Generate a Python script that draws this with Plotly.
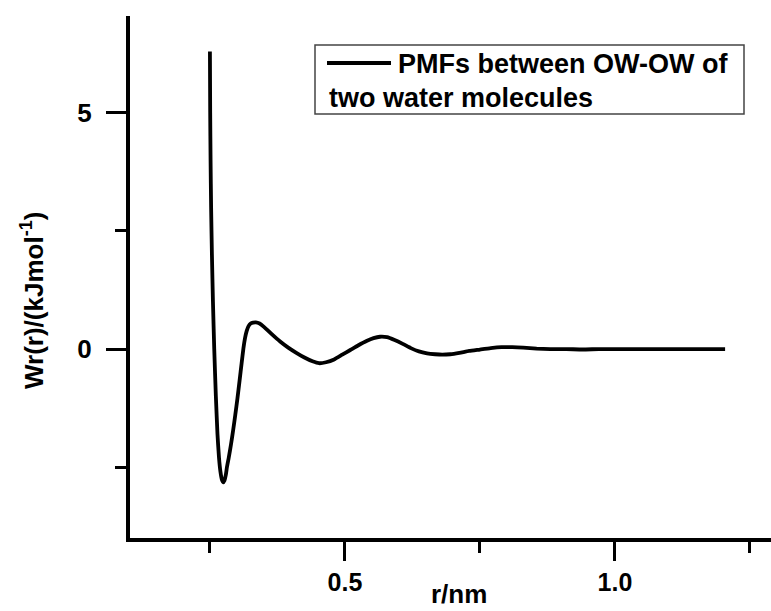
import plotly.graph_objects as go

# ---- data ----
r_nm = [0.2500, 0.2505, 0.2512, 0.2522, 0.2537, 0.2556, 0.2580, 0.2610, 0.2640,
        0.2668, 0.2695, 0.2720, 0.2746, 0.2770, 0.2795, 0.2815, 0.2850, 0.2890,
        0.2930, 0.2970, 0.3010, 0.3050, 0.3087, 0.3120, 0.3150, 0.3180, 0.3215,
        0.3255, 0.3300, 0.3350, 0.3420, 0.3500, 0.3650, 0.3800, 0.3950, 0.4100,
        0.4250, 0.4400, 0.4520, 0.4650, 0.4800, 0.4950, 0.5100, 0.5250, 0.5400,
        0.5530, 0.5650, 0.5780, 0.5920, 0.6070, 0.6220, 0.6370, 0.6520, 0.6670,
        0.6800, 0.6950, 0.7120, 0.7300, 0.7500, 0.7700, 0.7900, 0.8100, 0.8300,
        0.8550, 0.8800, 0.9100, 0.9400, 0.9700, 1.0000, 1.0400, 1.0800, 1.1200,
        1.1600, 1.2040]
w_r = [6.30, 5.00, 4.00, 3.00, 2.00, 1.00, 0.00, -1.00, -1.80,
       -2.30, -2.60, -2.76, -2.82, -2.78, -2.66, -2.50, -2.29, -2.02,
       -1.72, -1.39, -1.04, -0.66, -0.30, 0.01, 0.23, 0.38, 0.485,
       0.54, 0.56, 0.565, 0.54, 0.47, 0.31, 0.16, 0.03, -0.08,
       -0.18, -0.26, -0.30, -0.28, -0.22, -0.12, -0.02, 0.08, 0.17,
       0.23, 0.26, 0.25, 0.19, 0.11, 0.02, -0.05, -0.09, -0.11,
       -0.12, -0.11, -0.08, -0.04, -0.01, 0.02, 0.04, 0.04, 0.03,
       0.01, 0.00, 0.00, -0.01, 0.00, 0.00, 0.00, 0.00, 0.00,
       0.00, 0.00]

x_tickvals = [0.5, 1.0]
x_ticktext = ["0.5", "1.0"]
x_minor_ticks = [0.25, 0.75, 1.25]
y_tickvals = [0, 5]
y_ticktext = ["0", "5"]
y_minor_ticks = [-2.5, 2.5]
legend_line1 = "PMFs between OW-OW of"
legend_line2 = "two water molecules"

W, H = 771, 611
L, R, T, B = 130, 0, 16, 73
PW, PH = W - L - R, H - T - B


def px(xp):
    return (xp - L) / PW


def py(yp):
    return (H - B - yp) / PH


FONT = "Liberation Sans, Arial, sans-serif"

fig = go.Figure()
fig.add_trace(go.Scatter(x=r_nm, y=w_r, mode="lines",
                         line=dict(color="black", width=3.8, shape="spline", smoothing=0.5),
                         showlegend=False, hoverinfo="skip"))

fig.update_layout(
    width=W, height=H,
    margin=dict(l=L, r=R, t=T, b=B, pad=0),
    paper_bgcolor="white", plot_bgcolor="white",
    font=dict(family=FONT, size=26, color="black"),
    showlegend=False,
)

fig.update_xaxes(
    range=[0.102, 1.289], showgrid=False, zeroline=False,
    showline=True, linecolor="black", linewidth=4,
    tickmode="array", tickvals=x_tickvals, ticktext=x_ticktext,
    ticks="outside", ticklen=19, tickwidth=3, tickcolor="black",
    tickfont=dict(family=FONT, size=25, color="black", weight="bold"),
    ticklabelstandoff=0,
    minor=dict(tickmode="array", tickvals=x_minor_ticks, ticks="outside",
               ticklen=11, tickwidth=3, tickcolor="black"),
)
fig.update_yaxes(
    range=[-4.0, 7.05], showgrid=False, zeroline=False,
    showline=True, linecolor="black", linewidth=4,
    tickmode="array", tickvals=y_tickvals, ticktext=y_ticktext,
    ticks="outside", ticklen=20, tickwidth=3, tickcolor="black",
    tickfont=dict(family=FONT, size=26, color="black", weight="bold"),
    ticklabelstandoff=9,
    minor=dict(tickmode="array", tickvals=y_minor_ticks, ticks="outside",
               ticklen=11, tickwidth=3, tickcolor="black"),
)

# axis titles
fig.add_annotation(text="<b>r/nm</b>", xref="paper", yref="paper",
                   x=px(459), y=py(611), xanchor="center", yanchor="bottom",
                   showarrow=False, font=dict(family=FONT, size=26, color="black"))
fig.add_annotation(text="<b>Wr(r)/(kJmol<sup>-1</sup>)</b>", xref="paper", yref="paper",
                   x=px(33), y=py(300), xanchor="center", yanchor="middle", textangle=-90,
                   showarrow=False, font=dict(family=FONT, size=26, color="black"))

# legend box
fig.add_shape(type="rect", xref="paper", yref="paper",
              x0=px(315), x1=px(744), y0=py(114), y1=py(45),
              line=dict(color="#444444", width=1.5), fillcolor="white", layer="above")
fig.add_shape(type="line", xref="paper", yref="paper",
              x0=px(327), x1=px(391), y0=py(63), y1=py(63),
              line=dict(color="black", width=3.8), layer="above")
fig.add_annotation(text="<b>" + legend_line1 + "</b>", xref="paper", yref="paper",
                   x=px(396), y=py(64), xanchor="left", yanchor="middle",
                   showarrow=False, font=dict(family=FONT, size=27, color="black"))
fig.add_annotation(text="<b>" + legend_line2 + "</b>", xref="paper", yref="paper",
                   x=px(327), y=py(98), xanchor="left", yanchor="middle",
                   showarrow=False, font=dict(family=FONT, size=27, color="black"))

fig.write_html("out.html",
               config={"displayModeBar": False},
               post_script="document.body.style.margin='0';document.body.style.padding='0';")
